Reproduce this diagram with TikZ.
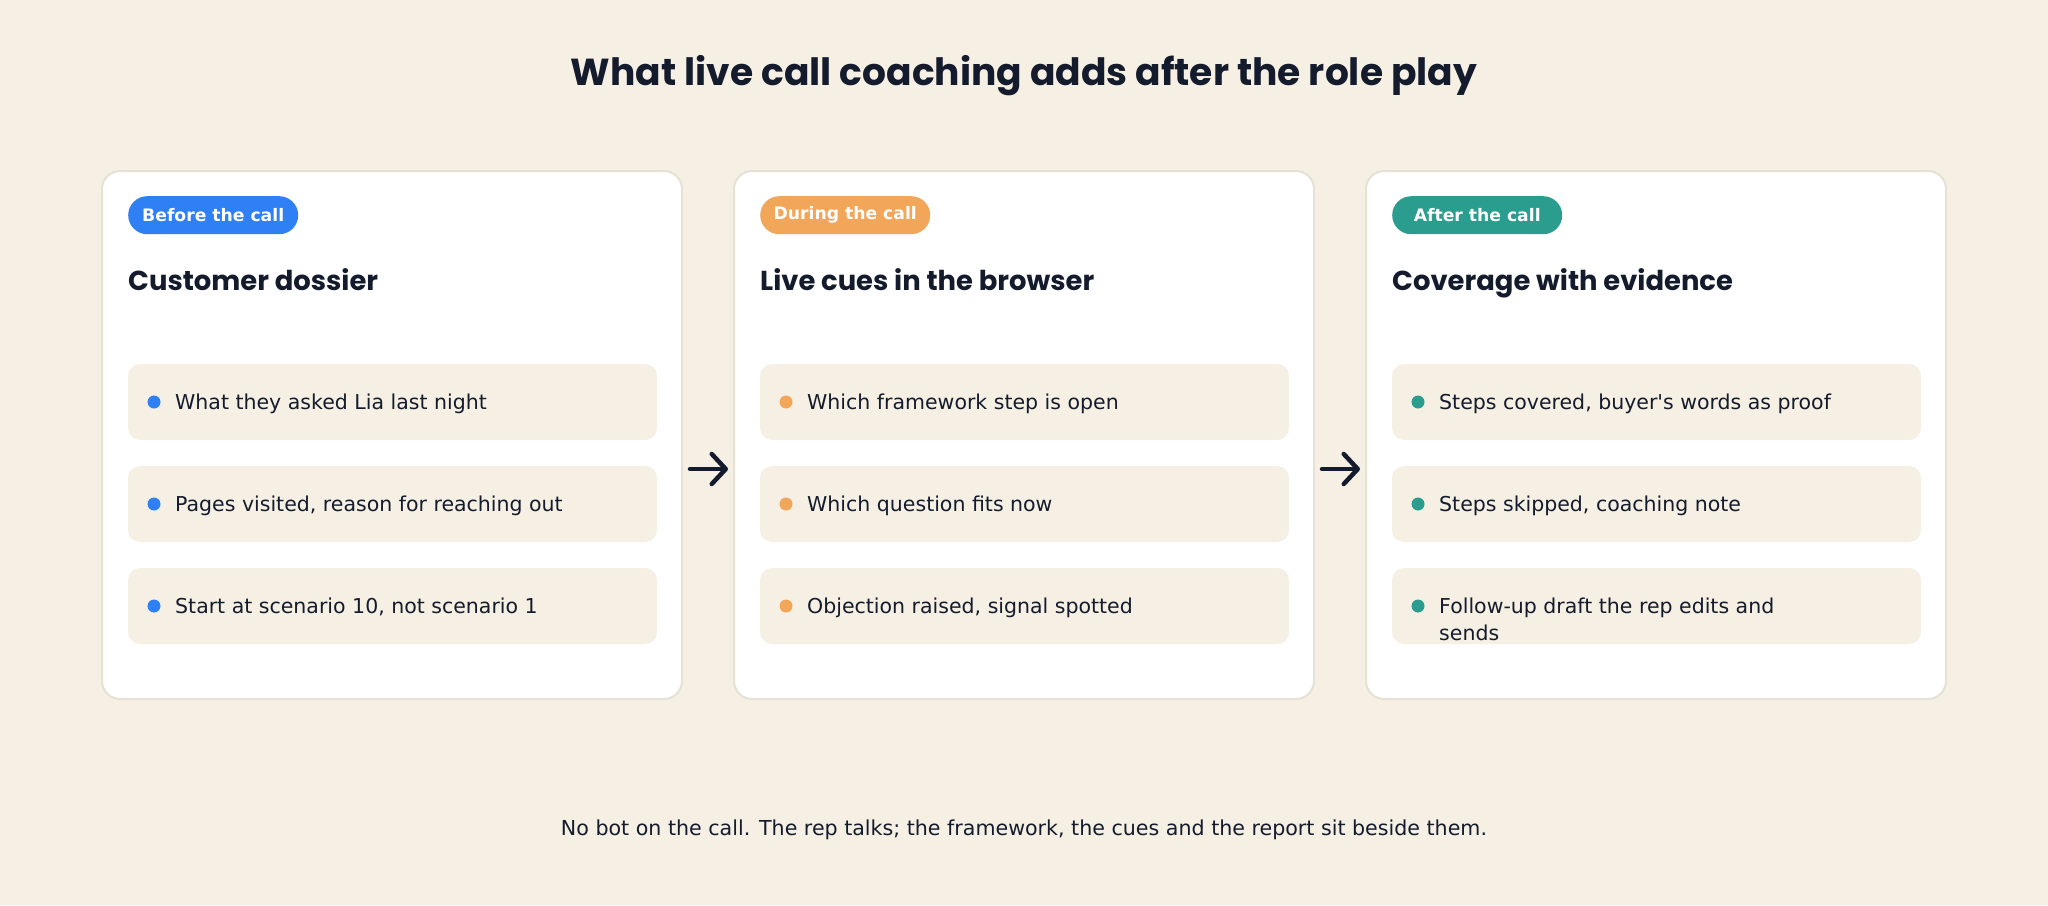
\documentclass[tikz,border=0pt]{standalone}
\usepackage{fontspec}
\setmainfont{DejaVu Sans}
\newfontfamily\poppins{Poppins}
\usepackage{tikz}
\usetikzlibrary{positioning, arrows.meta}
\definecolor{cream}{HTML}{F5F0E3}
\definecolor{cardline}{HTML}{E6E1D5}
\definecolor{ink}{HTML}{141B2D}
\definecolor{Blue}{HTML}{2F80F5}
\definecolor{Orange}{HTML}{F2A65A}
\definecolor{Teal}{HTML}{2A9D8F}
\tikzset{
	card/.style={
		draw=cardline,
		line width=2pt,
		fill=white,
		rounded corners=18pt,
		minimum width=580pt,
		minimum height=528pt,
		outer sep=0pt,
	},
	pill/.style={
		rounded corners=19pt,
		minimum width=170pt,
		minimum height=38pt,
		inner sep=0pt,
		text=white,
		anchor=north west,
		font={\bfseries\fontsize{17.2}{20}\selectfont}
	},
	heading/.style={
		text=ink,
		inner sep=0pt,
		anchor=base west,
		font={\poppins\bfseries\fontsize{27.4}{32}\selectfont}
	},
	item/.style={
		fill=cream,
		rounded corners=12pt,
		minimum width=529pt,
		minimum height=76pt,
		inner sep=0pt,
		outer sep=0pt,
	},
	dot/.style={
		circle,
		minimum size=13pt,
		inner sep=0pt,
	},
	itemtext/.style={
		text=ink,
		inner sep=0pt,
		anchor=base west,
		align=left,
		font={\fontsize{20.5}{27.5}\selectfont}
	},
	flow/.style={
		draw=ink,
		line width=4.5pt,
		line cap=round,
		-{Straight Barb[length=14pt, width=30pt, round]}
	}
}

\begin{document}
\begin{tikzpicture}[x=1pt, y=-1pt]
	\useasboundingbox[fill=cream] (0,0) rectangle (2048,905);

	\node[text=ink, anchor=base, font={\poppins\bfseries\fontsize{37.6}{42}\selectfont}] (title) at (1024,85) {What live call coaching adds after the role play};

	% the three cards
	\node[card] (before) at (392,435) {};
	\node[card, right=52pt of before] (during) {};
	\node[card, right=52pt of during] (after) {};

	\node[pill, fill=Blue] (tagb) at ([shift={(26pt,-25pt)}]before.north west) {Before the call};
	\node[pill, fill=Orange] (tagd) at ([shift={(26pt,-25pt)}]during.north west) {During the call};
	\node[pill, fill=Teal] (taga) at ([shift={(26pt,-25pt)}]after.north west) {After the call};

	\node[heading] (headb) at ([shift={(26pt,-119pt)}]before.north west) {Customer dossier};
	\node[heading] (headd) at ([shift={(26pt,-119pt)}]during.north west) {Live cues in the browser};
	\node[heading] (heada) at ([shift={(26pt,-119pt)}]after.north west) {Coverage with evidence};

	% before the call
	\node[item, anchor=north west] (b1) at ([shift={(26pt,-193pt)}]before.north west) {};
	\node[item, below=26pt of b1] (b2) {};
	\node[item, below=26pt of b2] (b3) {};
	\node[dot, fill=Blue] at ([xshift=26pt]b1.west) {};
	\node[dot, fill=Blue] at ([xshift=26pt]b2.west) {};
	\node[dot, fill=Blue] at ([xshift=26pt]b3.west) {};
	\node[itemtext] at ([shift={(47pt,-7pt)}]b1.west) {What they asked Lia last night};
	\node[itemtext] at ([shift={(47pt,-7pt)}]b2.west) {Pages visited, reason for reaching out};
	\node[itemtext] at ([shift={(47pt,-7pt)}]b3.west) {Start at scenario 10, not scenario 1};

	% during the call
	\node[item, anchor=north west] (d1) at ([shift={(26pt,-193pt)}]during.north west) {};
	\node[item, below=26pt of d1] (d2) {};
	\node[item, below=26pt of d2] (d3) {};
	\node[dot, fill=Orange] at ([xshift=26pt]d1.west) {};
	\node[dot, fill=Orange] at ([xshift=26pt]d2.west) {};
	\node[dot, fill=Orange] at ([xshift=26pt]d3.west) {};
	\node[itemtext] at ([shift={(47pt,-7pt)}]d1.west) {Which framework step is open};
	\node[itemtext] at ([shift={(47pt,-7pt)}]d2.west) {Which question fits now};
	\node[itemtext] at ([shift={(47pt,-7pt)}]d3.west) {Objection raised, signal spotted};

	% after the call
	\node[item, anchor=north west] (a1) at ([shift={(26pt,-193pt)}]after.north west) {};
	\node[item, below=26pt of a1] (a2) {};
	\node[item, below=26pt of a2] (a3) {};
	\node[dot, fill=Teal] at ([xshift=26pt]a1.west) {};
	\node[dot, fill=Teal] at ([xshift=26pt]a2.west) {};
	\node[dot, fill=Teal] at ([xshift=26pt]a3.west) {};
	\node[itemtext] at ([shift={(47pt,-7pt)}]a1.west) {Steps covered, buyer\textquotesingle s words as proof};
	\node[itemtext] at ([shift={(47pt,-7pt)}]a2.west) {Steps skipped, coaching note};
	% base sits on the last line here
	\node[itemtext] at ([shift={(47pt,-34.5pt)}]a3.west) {Follow-up draft the rep edits and\\sends};

	\draw[flow] ([shift={(8pt,-34pt)}]before.east) -- ([shift={(-6pt,-34pt)}]during.west);
	\draw[flow] ([shift={(8pt,-34pt)}]during.east) -- ([shift={(-6pt,-34pt)}]after.west);

	\node[text=ink, anchor=base, font={\fontsize{20.6}{24}\selectfont}] (note) at (1024,835) {No bot on the call. The rep talks; the framework, the cues and the report sit beside them.};
\end{tikzpicture}
\end{document}
